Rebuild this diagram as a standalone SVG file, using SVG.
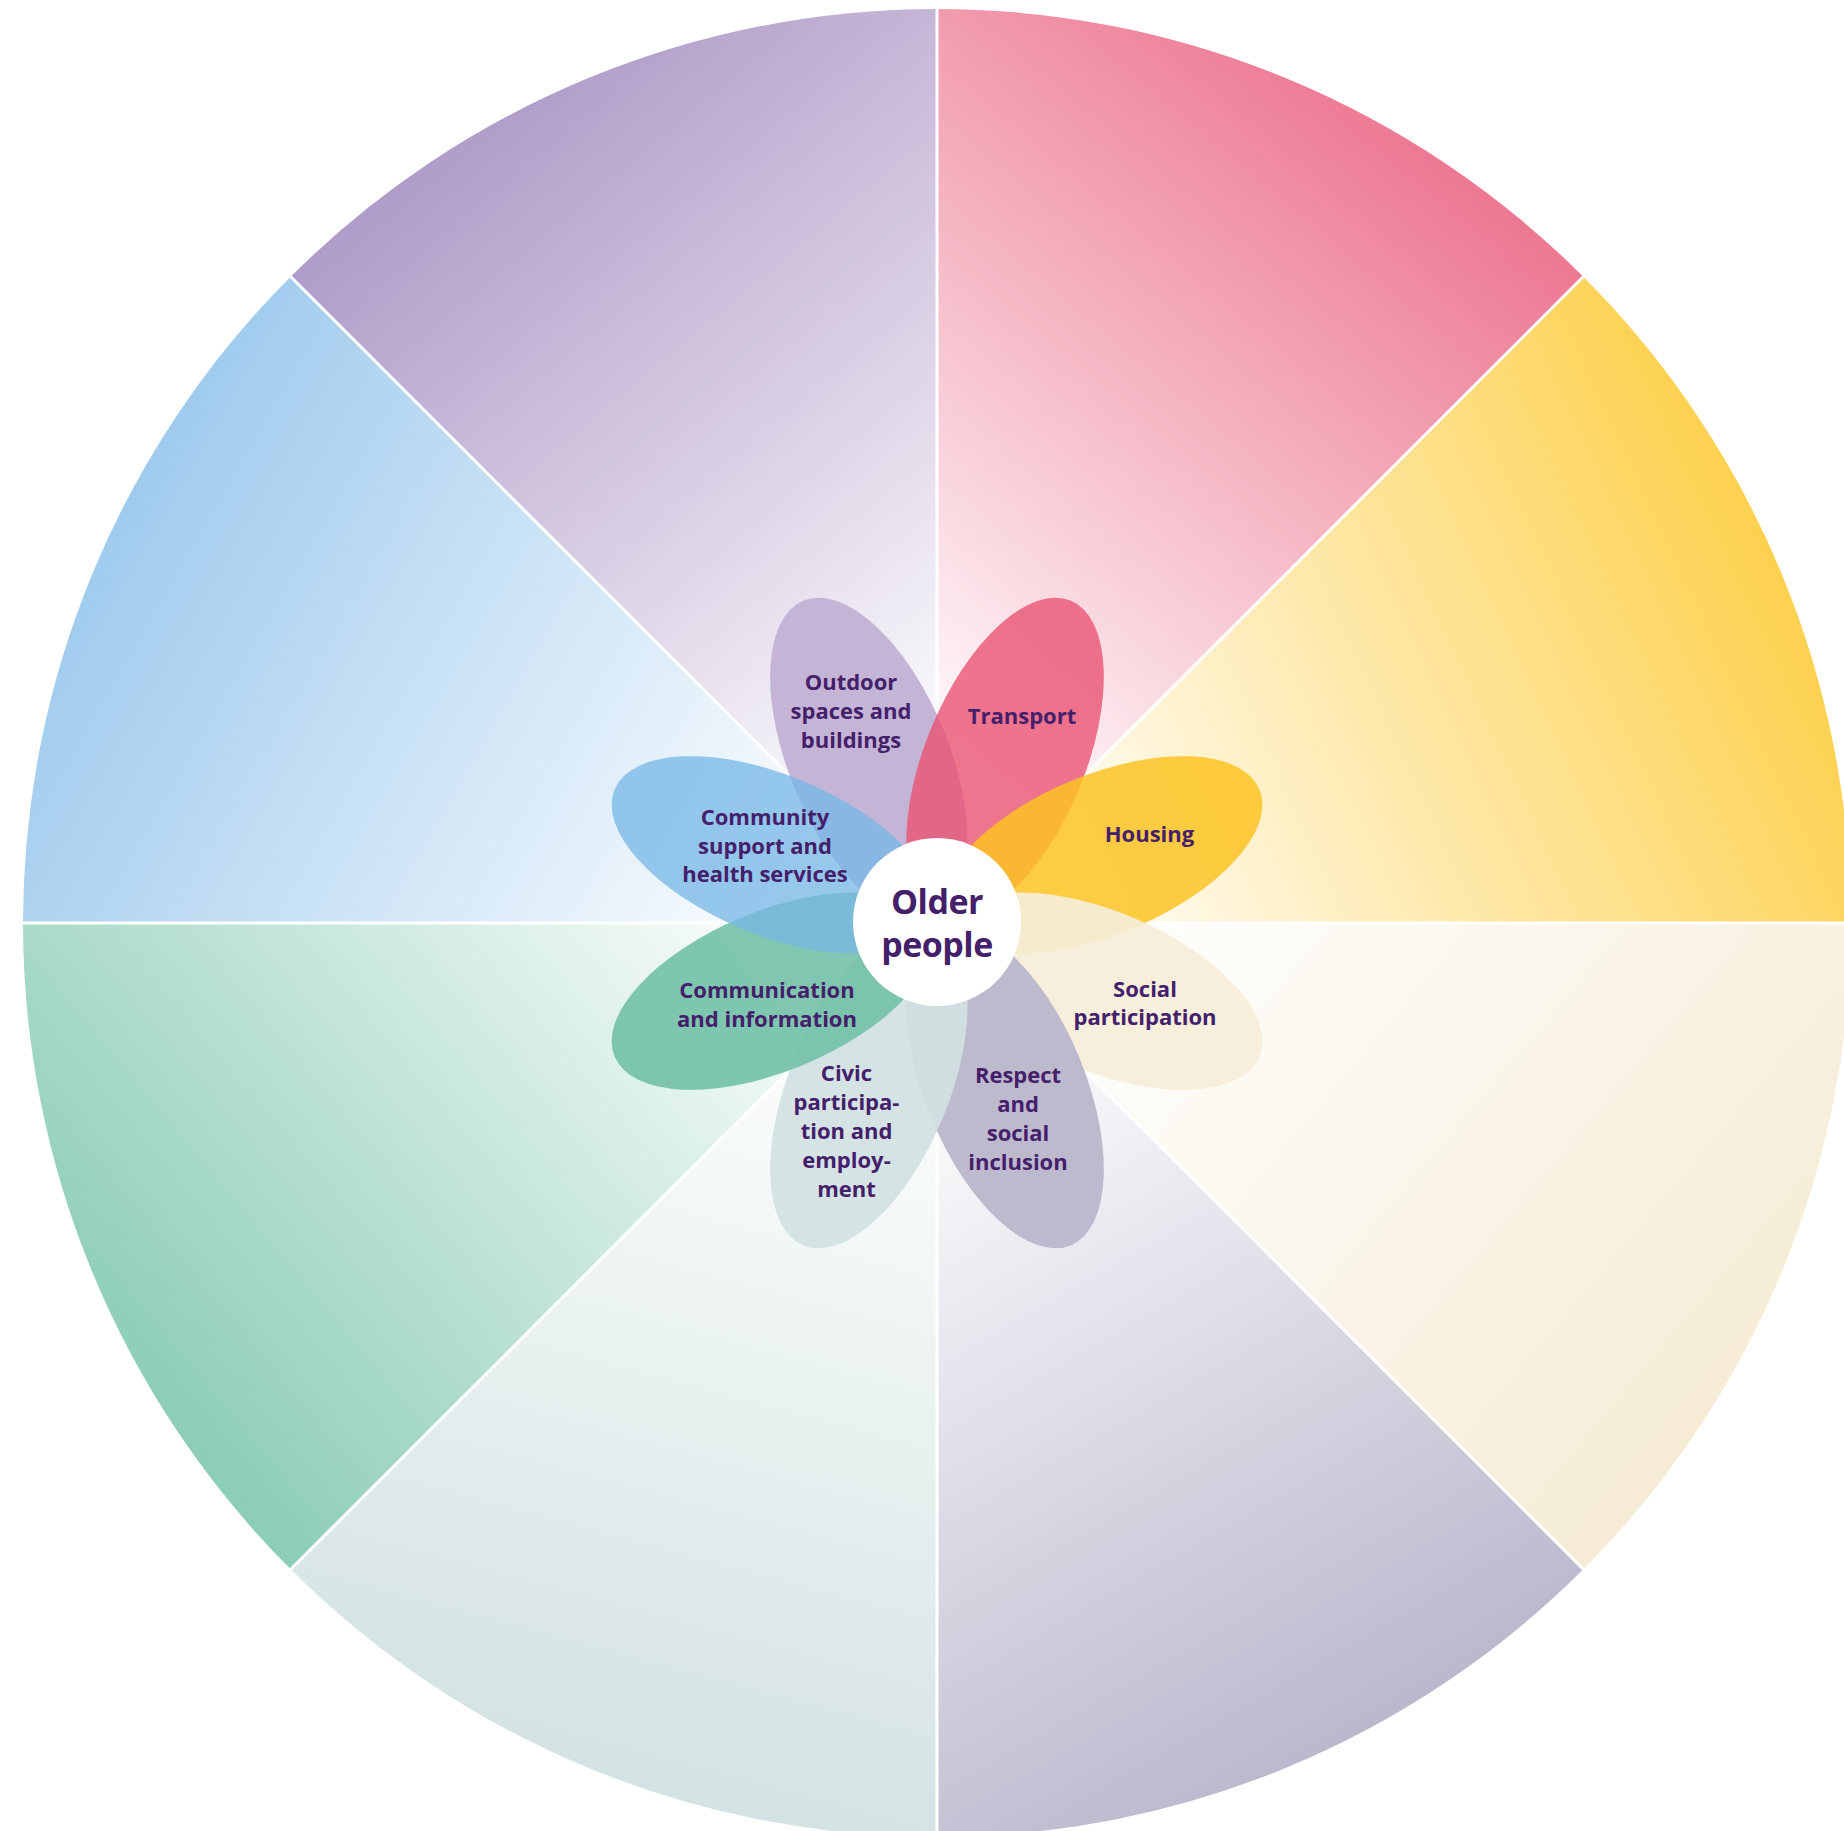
<svg xmlns="http://www.w3.org/2000/svg" width="1844" height="1831" viewBox="0 0 1844 1831">
<defs>
<linearGradient id="gPink" gradientUnits="userSpaceOnUse" x1="1025.1" y1="818.1" x2="1524.5" y2="222.9"><stop offset="0" stop-color="#ed7892" stop-opacity="0.04"/><stop offset="1" stop-color="#ed7892"/></linearGradient>
<linearGradient id="gYellow" gradientUnits="userSpaceOnUse" x1="1061.2" y1="865.1" x2="1765.4" y2="536.7"><stop offset="0" stop-color="#fdd14f" stop-opacity="0.06"/><stop offset="1" stop-color="#fdd14f"/></linearGradient>
<linearGradient id="gCream" gradientUnits="userSpaceOnUse" x1="1041.9" y1="1011.1" x2="1637.1" y2="1510.5"><stop offset="0" stop-color="#f6ecd6" stop-opacity="0.05"/><stop offset="1" stop-color="#f6ecd6"/></linearGradient>
<linearGradient id="gGrey" gradientUnits="userSpaceOnUse" x1="1005.5" y1="1041.6" x2="1394" y2="1714.5"><stop offset="0" stop-color="#bbb7cd" stop-opacity="0.04"/><stop offset="1" stop-color="#bbb7cd"/></linearGradient>
<linearGradient id="gBlueGrey" gradientUnits="userSpaceOnUse" x1="901.5" y1="1055.3" x2="700.4" y2="1805.8"><stop offset="0" stop-color="#d3e2e2" stop-opacity="0.05"/><stop offset="1" stop-color="#d3e2e2"/></linearGradient>
<linearGradient id="gGreen" gradientUnits="userSpaceOnUse" x1="832.1" y1="1011.1" x2="236.9" y2="1510.5"><stop offset="0" stop-color="#8ccdb6" stop-opacity="0.05"/><stop offset="1" stop-color="#8ccdb6"/></linearGradient>
<linearGradient id="gBlue" gradientUnits="userSpaceOnUse" x1="818.4" y1="854.5" x2="145.5" y2="466"><stop offset="0" stop-color="#a0cbee" stop-opacity="0.05"/><stop offset="1" stop-color="#a0cbee"/></linearGradient>
<linearGradient id="gPurple" gradientUnits="userSpaceOnUse" x1="848.9" y1="818.1" x2="349.5" y2="222.9"><stop offset="0" stop-color="#b09cc8" stop-opacity="0.05"/><stop offset="1" stop-color="#b09cc8"/></linearGradient>
</defs>
<style>
.lbl{font-family:"Open Sans","Noto Sans","Liberation Sans",sans-serif;font-weight:700;font-size:22px;fill:#44206a;text-anchor:middle}
.big{font-family:"Open Sans","Noto Sans","Liberation Sans",sans-serif;font-weight:700;font-size:34px;letter-spacing:-0.5px;fill:#44206a;text-anchor:middle}
.div{stroke:#ffffff;stroke-width:3;fill:none}
</style>
<rect width="1844" height="1831" fill="#ffffff"/>
<g id="sectors">
<path d="M937,923 L1583.3,276.7 A914,914 0 0 0 937,9 Z" fill="url(#gPink)"/>
<path d="M937,923 L937,9 A914,914 0 0 0 290.7,276.7 Z" fill="url(#gPurple)"/>
<path d="M937,923 L290.7,276.7 A914,914 0 0 0 23,923 Z" fill="url(#gBlue)"/>
<path d="M937,923 L23,923 A914,914 0 0 0 290.7,1569.3 Z" fill="url(#gGreen)"/>
<path d="M937,923 L290.7,1569.3 A914,914 0 0 0 937,1837 Z" fill="url(#gBlueGrey)"/>
<path d="M937,923 L937,1837 A914,914 0 0 0 1583.3,1569.3 Z" fill="url(#gGrey)"/>
<path d="M937,923 L1583.3,1569.3 A914,914 0 0 0 1851,923 Z" fill="url(#gCream)"/>
<path d="M937,923 L1851,923 A914,914 0 0 0 1583.3,276.7 Z" fill="url(#gYellow)"/>
</g>
<g id="dividers" class="div">
<line x1="937" y1="923" x2="937" y2="5"/>
<line x1="937" y1="923" x2="937" y2="1840"/>
<line x1="937" y1="923" x2="18" y2="923"/>
<line x1="937" y1="923" x2="1855" y2="923"/>
<line x1="937" y1="923" x2="1586" y2="274"/>
<line x1="937" y1="923" x2="288" y2="274"/>
<line x1="937" y1="923" x2="288" y2="1572"/>
<line x1="937" y1="923" x2="1586" y2="1572"/>
</g>
<g id="outdoor">
<ellipse cx="0" cy="0" rx="171" ry="80" transform="translate(937 923) rotate(-112.5) translate(178 0)" fill="#c4b5d6"/>
<text class="lbl" x="851" y="690">Outdoor</text>
<text class="lbl" x="851" y="719">spaces and</text>
<text class="lbl" x="851" y="748">buildings</text>
</g>
<g id="transport">
<ellipse cx="0" cy="0" rx="171" ry="80" transform="translate(937 923) rotate(-67.5) translate(178 0)" fill="#ea5473" fill-opacity="0.8"/>
<text class="lbl" x="1022" y="724">Transport</text>
</g>
<g id="housing">
<ellipse cx="0" cy="0" rx="171" ry="80" transform="translate(937 923) rotate(-22.5) translate(178 0)" fill="#fdc323" fill-opacity="0.85"/>
<text class="lbl" x="1149.5" y="842">Housing</text>
</g>
<g id="social">
<ellipse cx="0" cy="0" rx="171" ry="80" transform="translate(937 923) rotate(22.5) translate(178 0)" fill="#f6eed9" fill-opacity="0.92"/>
<text class="lbl" x="1145" y="997">Social</text>
<text class="lbl" x="1145" y="1025">participation</text>
</g>
<g id="respect">
<ellipse cx="0" cy="0" rx="171" ry="80" transform="translate(937 923) rotate(67.5) translate(178 0)" fill="#bab6cb" fill-opacity="0.95"/>
<text class="lbl" x="1018" y="1083">Respect</text>
<text class="lbl" x="1018" y="1112">and</text>
<text class="lbl" x="1018" y="1141">social</text>
<text class="lbl" x="1018" y="1170">inclusion</text>
</g>
<g id="civic">
<ellipse cx="0" cy="0" rx="171" ry="80" transform="translate(937 923) rotate(112.5) translate(178 0)" fill="#d1e1e2" fill-opacity="0.92"/>
<text class="lbl" x="846.5" y="1081">Civic</text>
<text class="lbl" x="846.5" y="1110">participa-</text>
<text class="lbl" x="846.5" y="1139">tion and</text>
<text class="lbl" x="846.5" y="1168">employ-</text>
<text class="lbl" x="846.5" y="1197">ment</text>
</g>
<g id="communication">
<ellipse cx="0" cy="0" rx="171" ry="80" transform="translate(937 923) rotate(157.5) translate(178 0)" fill="#75c1a9" fill-opacity="0.92"/>
<text class="lbl" x="767" y="998">Communication</text>
<text class="lbl" x="767" y="1026.5">and information</text>
</g>
<g id="community">
<ellipse cx="0" cy="0" rx="171" ry="80" transform="translate(937 923) rotate(-157.5) translate(178 0)" fill="#78b8e6" fill-opacity="0.77"/>
<text class="lbl" x="765" y="825">Community</text>
<text class="lbl" x="765" y="853.5">support and</text>
<text class="lbl" x="765" y="882">health services</text>
</g>
<g id="older-people">
<circle cx="937" cy="922" r="84" fill="#ffffff"/>
<text class="big" x="937" y="914">Older</text>
<text class="big" x="937" y="957">people</text>
</g>
</svg>
